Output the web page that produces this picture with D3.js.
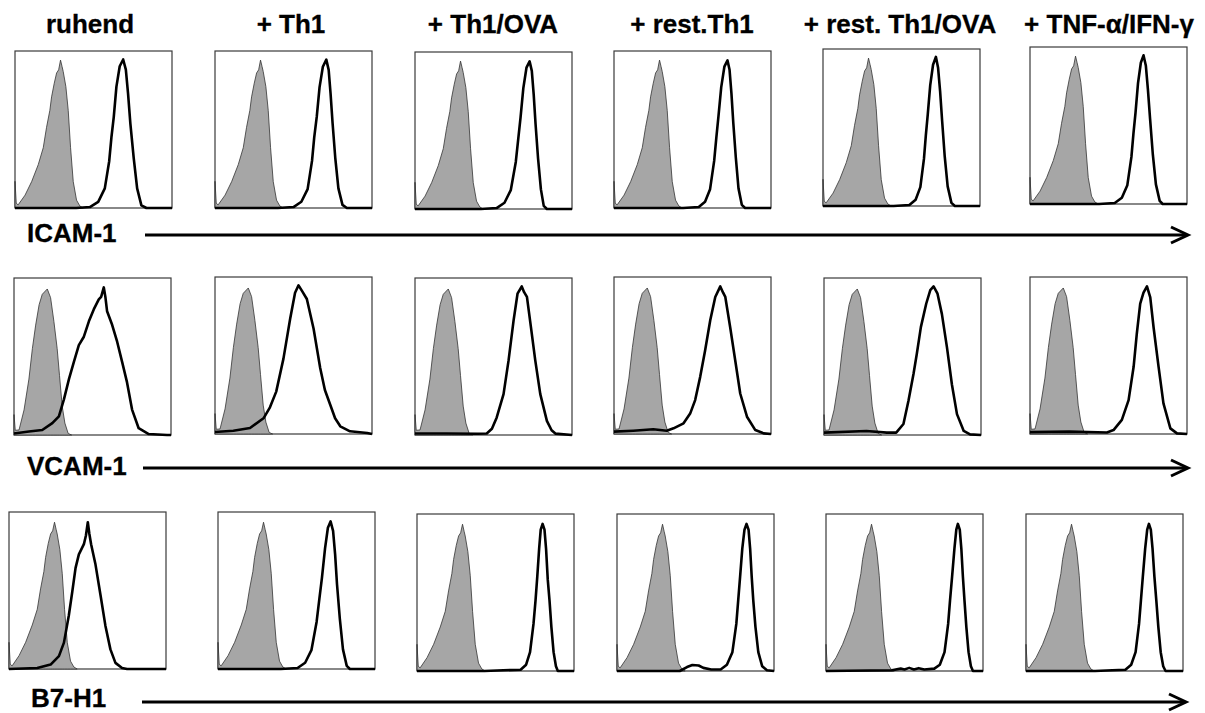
<!DOCTYPE html>
<html>
<head>
<meta charset="utf-8">
<script src="https://cdn.jsdelivr.net/npm/d3@7"></script>
<style>
  body { margin: 0; background: #fff; }
  .col-title, .row-title { font-family: "Liberation Sans", Arial, sans-serif; font-weight: bold; font-size: 26px; fill: #000; stroke: #000; stroke-width: 0.3px; }
</style>
</head>
<body>
<svg id="facs-grid" width="1205" height="713"></svg>
<script>
/*********************/
/*** DATA          ***/
/*********************/

var conditions = ["ruhend", "+ Th1", "+ Th1/OVA", "+ rest.Th1", "+ rest. Th1/OVA", "+ TNF-\u03b1/IFN-\u03b3"];
var markers = ["ICAM-1", "VCAM-1", "B7-H1"];

// isotype controls, [fluorescence %, count % of max]
var isotype_icam = [[0,0],[0,17],[0.8,3],[2,2],[6.4,8.2],[10.6,16.8],[14.8,27.6],[18,38.4],[20.1,51.4],[22.2,62.2],[23.3,70.8],[25,79.5],[26.5,86],[27.8,88],[29,94.2],[30,90],[30.7,87],[32.4,77.3],[33.9,62.2],[35.4,38.4],[37.1,16.8],[39.2,5],[41.3,1.3],[43.4,0]];
var isotype_vcam = [[0,0],[0,13],[0.8,3],[3.2,3.2],[6.4,16],[9.5,35.6],[11.7,55],[13.8,70],[16,83],[18,89.6],[21.2,93],[23.3,87.5],[25.4,72.4],[27.5,55],[29,37.8],[30.7,18.4],[32.4,7.6],[34.5,1],[36.7,0]];
var isotype_b7h1 = [[0,0],[0,17],[0.8,3],[2,2],[6.4,8.5],[10.6,17],[14.8,28],[18,38],[20.1,51],[22.2,62],[23.3,71],[25,80],[26.5,86],[27.8,88],[29,93.5],[30,89],[30.7,86],[32.4,76],[33.9,61],[35.4,38],[37.1,17],[39.2,5],[41.3,1.3],[43.4,0]];

// stained samples, one list per condition
var icam_curves = [
    [[0,0],[39,0],[47.7,0.6],[53,3.9],[57.2,12.5],[60,29.8],[61.4,44.9],[62.9,57.9],[64.6,77.3],[66.7,90.3],[68.9,94.6],[70.6,88.1],[72,73],[73.5,53.6],[75.6,32],[77.8,12.5],[80.5,1.7],[83.7,0],[100,0]],
    [[0,0],[40,0],[50,0.6],[55,4],[59,12],[61.8,30],[63.2,45],[64.8,58],[66.6,77],[68.7,90],[70.9,94.5],[72.4,88],[73.6,73],[74.9,54],[76.6,32],[78.6,12.5],[81.2,2],[84,0],[100,0]],
    [[0,0],[42,0],[52,0.6],[57,4],[61,12],[64.2,30],[65.8,45],[67.2,58],[69,77],[71,90],[73,94],[74.4,88],[75.6,73],[76.8,54],[78.4,32],[80.2,12.5],[82,2],[84,0],[100,0]],
    [[0,0],[44,0],[54,0.6],[58,4],[61.2,12],[63.8,30],[65.2,45],[66.5,58],[68.3,77],[70.3,90],[72.3,94],[73.6,88],[74.8,73],[76,54],[77.6,32],[79.3,12.5],[81.4,2],[83.5,0],[100,0]],
    [[0,0],[45,0],[55,0.6],[59,4],[62,12],[64.3,30],[65.5,45],[66.7,58],[68.3,77],[70.1,90],[71.9,95],[73.3,88],[74.6,73],[75.9,54],[77.5,32],[79.4,12.5],[81.8,2],[84,0],[100,0]],
    [[0,0],[44,0],[54,0.6],[58.5,4],[62,12],[64.6,30],[65.9,45],[67.2,58],[68.8,77],[70.6,90],[72.3,94.7],[73.8,88],[75.1,73],[76.5,54],[78.2,32],[80.2,12.5],[82.6,2],[84.5,0],[100,0]]
];

var vcam_curves = [
    [[0,1],[9.5,2.2],[18,3.2],[24.4,7.6],[28.6,11.9],[31.8,22.7],[35,35.6],[38.1,46.4],[41.3,57.2],[44.5,62.6],[47.7,72.4],[50.8,80],[54,86.4],[55.5,88],[57.2,94],[58.2,88],[59.3,78.8],[62.5,70.2],[65.7,59.4],[68.9,46.4],[72,33.5],[75.2,16.2],[79.4,4.3],[85.8,0.6],[97.5,0],[100,0]],
    [[0,1.3],[11.7,2.1],[22.3,3.8],[30.9,10],[35,17],[39,27],[43.6,48],[47.9,73.6],[51,90],[53.2,94.7],[55.5,91],[58.5,86],[62.8,67],[67,42],[70,28],[73.4,18.6],[76.5,10],[79.8,4.9],[86,1.7],[97,0.6],[100,0]],
    [[0,1],[20,1],[40,0.8],[45.7,1],[49,4],[52,11],[56.4,26],[59.6,47.5],[62.8,73],[65.3,90],[68,94.6],[69.5,91],[71.3,88],[73.8,69],[76.6,47.5],[79.8,26],[84,9],[87,3],[89.4,0.9],[100,0]],
    [[0,1.5],[12.3,2.1],[25,3],[33.6,2.1],[37.9,3.6],[44.3,6.8],[48.5,13],[51.7,21.6],[54.9,36.4],[58,53],[61.3,72.5],[64.5,87.3],[67.7,94],[69.5,90],[70.9,87.3],[74,68],[77.2,47],[80.4,25.8],[84.7,11],[90,2.5],[95.3,0.4],[100,0]],
    [[0,1.5],[27,2.5],[40,1.5],[46,1.5],[50.6,7],[53.8,21.8],[57,38.8],[59.1,51.6],[61.7,68.7],[65.1,83.6],[67.7,92.3],[69.8,94.6],[72.3,90],[75.1,77],[78.3,56],[81.5,32],[84.7,13.3],[89,2.6],[93,0.4],[100,0]],
    [[0,1.2],[25,1.5],[49,1],[53.2,2.5],[58.5,9],[62.8,21.6],[66,42.8],[68,63.6],[70.2,83],[72.3,90],[74.5,94],[76.6,87],[78.7,68],[81.9,42.8],[85,19.5],[89.4,3.6],[93.6,0.4],[100,0]]
];

var b7h1_curves = [
    [[0,0],[18,0.6],[26.5,2.8],[31.8,8.2],[35,16.8],[38.1,34.1],[40.3,49.2],[42.4,64.4],[44.5,73],[47.7,79.5],[49,85],[50.2,93.5],[51.2,86],[52.3,79.5],[55.1,66.5],[58.3,47],[61.4,27.6],[64.6,12.5],[67.8,3.9],[72,0.6],[75.2,0],[100,0]],
    [[0,0],[40,0],[50.7,0.6],[55.5,4],[59.5,12],[62.8,30],[64.6,45],[66.2,58],[68.2,77],[70,90],[71.7,94],[73.3,88],[74.6,73],[75.8,54],[77.6,32],[79.6,12.5],[82,2],[84,0],[100,0]],
    [[0,0],[43,0],[55,0.5],[66,0.8],[69.5,4],[72,12],[74.2,30],[75.5,45],[76.6,60],[77.8,78],[78.8,90],[80,93.7],[81.2,90],[82.2,78],[83.3,58],[84.4,45],[85.6,28],[87,12],[88.5,3],[89.7,0],[100,0]],
    [[0,0],[40,0],[44.6,2.5],[48,3.8],[52,3.5],[55,2],[60,1],[66,1],[70,4],[73.5,12],[76,30],[77.2,45],[78.4,60],[79.8,78],[81.2,90],[82.5,93.7],[83.8,90],[84.8,78],[85.8,60],[86.8,45],[88.2,28],[90,12],[92.5,3],[95.5,0.5],[100,0]],
    [[0,0],[42,0.5],[47.6,1.5],[50,1],[53,2],[56,1],[59,1.8],[62.6,1],[69,1.5],[72.5,4],[75.5,12],[77.8,30],[79,45],[80.3,60],[81.8,78],[83,90],[84,93.7],[85.2,90],[86.2,78],[87.2,60],[88.2,45],[89.4,28],[90.8,12],[92.3,3],[93.6,0],[100,0]],
    [[0,0],[44,0],[55,0.5],[63.3,0.8],[67,4],[69.8,12],[72,30],[73.2,45],[74.4,60],[75.9,78],[77.2,90],[78.3,93.7],[79.5,90],[80.6,78],[81.8,60],[83,45],[84.3,28],[85.8,12],[87.4,3],[88.9,0],[100,0]]
];

/*********************/
/*** LAYOUT        ***/
/*********************/

var svg = d3.select('#facs-grid');

var panel_w = 157, panel_h = 157;

// the panels were pasted by hand, so each row keeps its own offsets
var panel_left = [
    [15, 215, 415, 614, 823, 1030],
    [14, 215, 415, 614, 824, 1030],
    [9, 218, 417, 617, 826, 1026]
];
var panel_top = [
    [51, 51, 52, 51, 49, 47],
    [278, 277, 278, 277, 278, 277],
    [512, 512, 514, 514, 514, 514]
];

var title_x = [90, 291, 493, 692, 900, 1109],
    title_y = 33;

var row_label_x = [27, 27, 31],
    row_label_y = [242, 475, 707],
    arrow_y = [235, 468, 702],
    arrow_x0 = [145, 143, 142],
    arrow_x1 = [1188, 1188, 1186];

var isotypes = [isotype_icam, isotype_vcam, isotype_b7h1],
    stained = [icam_curves, vcam_curves, b7h1_curves];

/********************************/
/*** DECLARE HELPER FUNCTIONS ***/
/********************************/

function draw_panel(row, col) {
    var left = panel_left[row][col],
        top  = panel_top[row][col];

    var x = d3.scaleLinear().domain([0, 100]).range([left, left + panel_w]),
        y = d3.scaleLinear().domain([0, 100]).range([top + panel_h, top]);

    var g = svg.append('g').attr('class', 'panel');

    g.append('rect')
        .attr('x', left).attr('y', top)
        .attr('width', panel_w).attr('height', panel_h)
        .attr('fill', '#fff')
        .attr('stroke', '#3a3a3a')
        .attr('stroke-width', 1.2);

    // isotype control, filled grey
    var area = d3.area()
        .x(function(d) { return x(d[0]); })
        .y0(y(0))
        .y1(function(d) { return y(d[1]); });

    g.append('path')
        .datum(isotypes[row])
        .attr('d', area)
        .attr('fill', '#a6a6a6')
        .attr('stroke', '#333')
        .attr('stroke-width', 0.8);

    // stained sample, black outline
    var line = d3.line()
        .x(function(d) { return x(d[0]); })
        .y(function(d) { return y(d[1]); });

    g.append('path')
        .datum(stained[row][col])
        .attr('d', line)
        .attr('fill', 'none')
        .attr('stroke', '#000')
        .attr('stroke-width', 2.6)
        .attr('stroke-linejoin', 'round');
}

function draw_arrow(row) {
    var yy = arrow_y[row],
        x1 = arrow_x1[row];

    svg.append('line')
        .attr('x1', arrow_x0[row]).attr('x2', x1 - 1)
        .attr('y1', yy).attr('y2', yy)
        .attr('stroke', '#000')
        .attr('stroke-width', 3);

    svg.append('path')
        .attr('d', d3.line()([[x1 - 17, yy - 8], [x1, yy], [x1 - 17, yy + 8]]))
        .attr('fill', 'none')
        .attr('stroke', '#000')
        .attr('stroke-width', 3)
        .attr('stroke-linejoin', 'miter');
}

function render_grid() {
    svg.selectAll('.col-title')
        .data(conditions)
        .enter().append('text')
        .attr('class', 'col-title')
        .attr('x', function(d, i) { return title_x[i]; })
        .attr('y', title_y)
        .attr('text-anchor', 'middle')
        .text(function(d) { return d; });

    for (var r = 0; r < markers.length; r++) {
        for (var c = 0; c < conditions.length; c++) {
            draw_panel(r, c);
        }

        svg.append('text')
            .attr('class', 'row-title')
            .attr('x', row_label_x[r])
            .attr('y', row_label_y[r])
            .text(markers[r]);

        draw_arrow(r);
    }
}

render_grid();
</script>
</body>
</html>
